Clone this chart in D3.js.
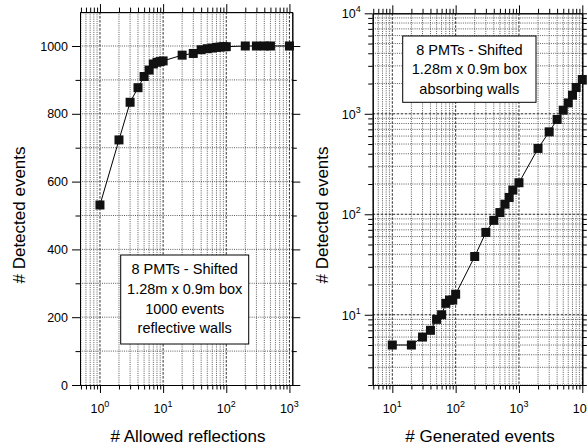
<!DOCTYPE html>
<html>
<head>
<meta charset="utf-8">
<script src="https://cdn.jsdelivr.net/npm/d3@7"></script>
<style>
  body { margin: 0; background: #fff; }
  svg { display: block; font-family: "Liberation Sans", Arial, Helvetica, sans-serif; }
</style>
</head>
<body>
<div id="chart"></div>
<script>
var totWidth = 587;
var totHeight = 448;

//-- Data: left panel (detected events vs allowed reflections)
var reflX = [1, 2, 3, 4, 5, 6, 7, 8, 9, 10, 20, 30, 40, 50, 60, 70, 80, 90, 100, 200, 300, 400, 500, 1000];
var reflY = [531, 723, 834, 877, 910, 929, 947, 952, 954, 956, 973, 978, 989, 992, 994, 996, 997, 998, 998, 1000, 1000, 1000, 1000, 1000];

//-- Data: right panel (detected events vs generated events)
var genX = [10, 20, 30, 40, 50, 60, 70, 80, 90, 100, 200, 300, 400, 500, 600, 700, 800, 1000, 2000, 3000, 4000, 5000, 6000, 7000, 8000, 10000];
var genY = [5, 5, 6, 7, 9, 10, 13, 14, 14, 16, 38, 66, 87, 104, 126, 147, 174, 206, 452, 661, 877, 1086, 1283, 1531, 1826, 2193];

//-- Tick labels / texts
var leftYTicks = [0, 200, 400, 600, 800, 1000];
var leftXDecades = [0, 1, 2, 3];
var rightXDecades = [1, 2, 3, 4];
var rightYDecades = [1, 2, 3, 4];
var leftBoxLines = ["8 PMTs - Shifted", "1.28m x 0.9m box", "1000 events", "reflective walls"];
var rightBoxLines = ["8 PMTs - Shifted", "1.28m x 0.9m box", "absorbing walls"];

var svg = d3.select("#chart")
  .append("svg")
    .attr("width", totWidth)
    .attr("height", totHeight);

svg.append("rect").attr("width", totWidth).attr("height", totHeight).attr("fill", "#fff");

//-- minor values for a log scale (1..9 x decade) inside domain
function logMinors(scale) {
  var dom = scale.domain(), out = [];
  var lo = Math.floor(Math.log10(dom[0])), hi = Math.ceil(Math.log10(dom[1]));
  for (var e = lo; e <= hi; e++) {
    for (var m = 2; m <= 9; m++) {
      var v = m * Math.pow(10, e);
      if (v >= dom[0] && v <= dom[1]) out.push(v);
    }
  }
  return out;
}

function addAxis(g, axis, transform) {
  var a = g.append("g").attr("transform", transform).call(axis);
  a.selectAll("path, line").attr("stroke", "#000").attr("stroke-width", 1);
  return a;
}

//-- write "10^e" as text with superscript
function powLabel(sel, e) {
  sel.append("tspan").text("10");
  sel.append("tspan").attr("dy", -6).attr("font-size", 9).text(e);
}

function drawPanel(p) {
  var g = svg.append("g");
  var x = p.x, y = p.y;
  var L = p.left, R = p.right, T = p.top, B = p.bottom;

  //-- grid
  var xMin = logMinors(x);
  var xMaj = p.xDecades.map(function(e){ return Math.pow(10, e); })
    .filter(function(v){ return v >= x.domain()[0] && v <= x.domain()[1]; });

  g.selectAll(null).data(xMin).enter().append("line")
    .attr("x1", function(d){ return x(d); }).attr("x2", function(d){ return x(d); })
    .attr("y1", T).attr("y2", B)
    .attr("stroke", "#333").attr("stroke-width", 0.8).attr("stroke-dasharray", "1,1.2");
  g.selectAll(null).data(p.yMinorGrid).enter().append("line")
    .attr("y1", function(d){ return y(d); }).attr("y2", function(d){ return y(d); })
    .attr("x1", L).attr("x2", R)
    .attr("stroke", "#333").attr("stroke-width", 0.8).attr("stroke-dasharray", "1,1.2");
  g.selectAll(null).data(xMaj).enter().append("line")
    .attr("x1", function(d){ return x(d); }).attr("x2", function(d){ return x(d); })
    .attr("y1", T).attr("y2", B)
    .attr("stroke", "#111").attr("stroke-width", 0.9).attr("stroke-dasharray", "2.5,1.5");
  g.selectAll(null).data(p.yMajorGrid).enter().append("line")
    .attr("y1", function(d){ return y(d); }).attr("y2", function(d){ return y(d); })
    .attr("x1", L).attr("x2", R)
    .attr("stroke", "#111").attr("stroke-width", 0.9).attr("stroke-dasharray", p.yMajorDash);

  //-- axes (ticks outward on all four sides)
  var noLab = function(){ return ""; };
  addAxis(g, d3.axisBottom(x).tickValues(xMaj).tickSize(8).tickSizeOuter(0).tickFormat(noLab), "translate(0," + B + ")");
  addAxis(g, d3.axisBottom(x).tickValues(xMin).tickSize(4.5).tickSizeOuter(0).tickFormat(noLab), "translate(0," + B + ")");
  addAxis(g, d3.axisTop(x).tickValues(xMaj).tickSize(8).tickSizeOuter(0).tickFormat(noLab), "translate(0," + T + ")");
  addAxis(g, d3.axisTop(x).tickValues(xMin).tickSize(4.5).tickSizeOuter(0).tickFormat(noLab), "translate(0," + T + ")");
  addAxis(g, d3.axisLeft(y).tickValues(p.yMajorTicks).tickSize(8).tickSizeOuter(0).tickFormat(noLab), "translate(" + L + ",0)");
  addAxis(g, d3.axisLeft(y).tickValues(p.yMinorTicks).tickSize(4.5).tickSizeOuter(0).tickFormat(noLab), "translate(" + L + ",0)");
  addAxis(g, d3.axisRight(y).tickValues(p.yMajorTicks).tickSize(8).tickSizeOuter(0).tickFormat(noLab), "translate(" + R + ",0)");
  addAxis(g, d3.axisRight(y).tickValues(p.yMinorTicks).tickSize(4.5).tickSizeOuter(0).tickFormat(noLab), "translate(" + R + ",0)");

  //-- x tick labels
  g.selectAll(null).data(p.xDecades).enter().append("text")
    .attr("x", function(e){ return x(Math.pow(10, e)) - 9.5; })
    .attr("y", B + 28)
    .attr("font-size", 12.5)
    .attr("fill", "#000")
    .each(function(e){ powLabel(d3.select(this), e); });

  //-- y tick labels
  if (p.yLog) {
    g.selectAll(null).data(p.yDecades).enter().append("text")
      .attr("x", L - 12)
      .attr("y", function(e){ return y(Math.pow(10, e)) + 5; })
      .attr("text-anchor", "end")
      .attr("font-size", 12.5)
      .attr("fill", "#000")
      .each(function(e){ powLabel(d3.select(this), e); });
  } else {
    g.selectAll(null).data(p.yMajorTicks).enter().append("text")
      .attr("x", L - 12)
      .attr("y", function(d){ return y(d) + 4.5; })
      .attr("text-anchor", "end")
      .attr("font-size", 12.5)
      .attr("fill", "#000")
      .text(function(d){ return d; });
  }

  //-- axis titles
  g.append("text")
    .attr("transform", "translate(" + p.yTitleX + ",215) rotate(-90)")
    .attr("text-anchor", "middle")
    .attr("font-size", 17)
    .text("# Detected events");
  g.append("text")
    .attr("x", p.xTitleX).attr("y", 441.5)
    .attr("text-anchor", "middle")
    .attr("font-size", 17)
    .text(p.xTitle);

  //-- series line + square markers
  var pts = p.xs.map(function(v, i){ return [v, p.ys[i]]; });
  var line = d3.line()
    .x(function(d){ return x(d[0]); })
    .y(function(d){ return y(d[1]); });
  var clipId = "clip" + p.id;
  svg.append("clipPath").attr("id", clipId)
    .append("rect").attr("x", L).attr("y", T).attr("width", R - L + 6).attr("height", B - T);
  var sg = g.append("g").attr("clip-path", "url(#" + clipId + ")");
  sg.append("path")
    .datum(pts)
    .attr("d", line)
    .attr("fill", "none")
    .attr("stroke", "#000")
    .attr("stroke-width", 1);
  var ms = 9;
  sg.selectAll(null).data(pts).enter().append("rect")
    .attr("x", function(d){ return x(d[0]) - ms / 2; })
    .attr("y", function(d){ return y(d[1]) - ms / 2; })
    .attr("width", ms).attr("height", ms)
    .attr("fill", "#111");

  //-- legend box
  var bx = p.box;
  g.append("rect")
    .attr("x", bx.x).attr("y", bx.y).attr("width", bx.w).attr("height", bx.h)
    .attr("fill", "#fff").attr("stroke", "#000").attr("stroke-width", 1);
  g.selectAll(null).data(bx.lines).enter().append("text")
    .attr("x", bx.x + bx.w / 2)
    .attr("y", function(d, i){ return bx.base + i * bx.step; })
    .attr("text-anchor", "middle")
    .attr("font-size", 14.5)
    .text(function(d){ return d; });
}

//-- Left panel
var leftX = d3.scaleLog().domain([0.483, 1110]).range([80, 292.3]);
var leftY = d3.scaleLinear().domain([0, 1100]).range([385, 12.1]);
drawPanel({
  id: "L", x: leftX, y: leftY, left: 80, right: 292.3, top: 12.1, bottom: 385,
  xDecades: leftXDecades, yLog: false,
  yMajorTicks: leftYTicks,
  yMinorTicks: [100, 300, 500, 700, 900],
  yMajorGrid: [], yMinorGrid: [100, 200, 300, 400, 500, 600, 700, 800, 900, 1000],
  yMajorDash: "2,1.5",
  yTitleX: 25, xTitleX: 188, xTitle: "# Allowed reflections",
  xs: reflX, ys: reflY,
  box: { x: 120.7, y: 255, w: 128, h: 89, base: 274.3, step: 19.7, lines: leftBoxLines }
});

//-- Right panel
var rightX = d3.scaleLog().domain([4.9, 10000]).range([372.7, 582.3]);
var rightY = d3.scaleLog().domain([2, 10000]).range([385, 13.3]);
var rightYMinor = logMinors(rightY);
drawPanel({
  id: "R", x: rightX, y: rightY, left: 372.7, right: 582.3, top: 13.3, bottom: 385,
  xDecades: rightXDecades, yLog: true, yDecades: rightYDecades,
  yMajorTicks: [10, 100, 1000, 10000],
  yMinorTicks: rightYMinor,
  yMajorGrid: [10, 100, 1000], yMinorGrid: rightYMinor,
  yMajorDash: "2.5,1.5",
  yTitleX: 328, xTitleX: 480, xTitle: "# Generated events",
  xs: genX, ys: genY,
  box: { x: 402.7, y: 36, w: 133.3, h: 66.3, base: 55, step: 19.3, lines: rightBoxLines }
});
</script>
</body>
</html>
